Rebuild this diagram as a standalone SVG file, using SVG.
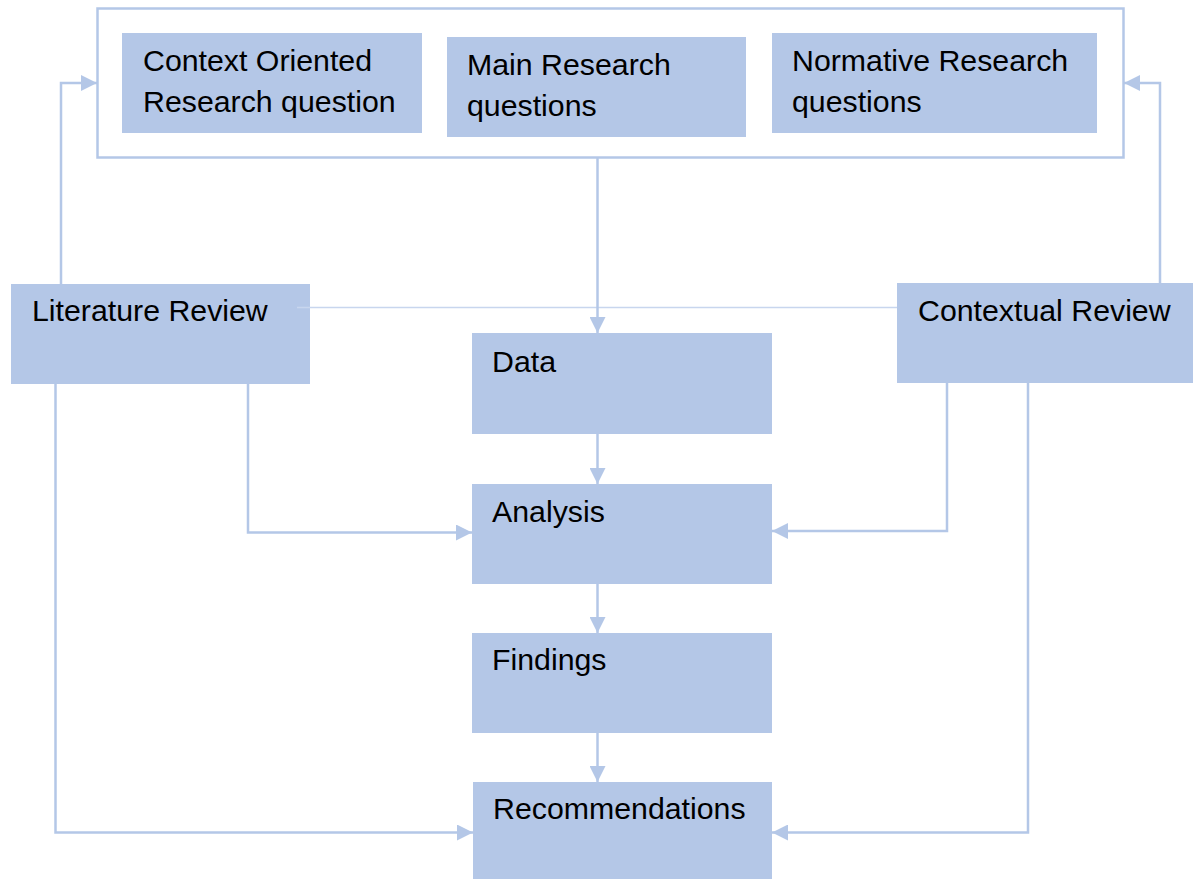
<svg xmlns="http://www.w3.org/2000/svg" width="1193" height="879" viewBox="0 0 1193 879">
<style>
.box{fill:#b4c7e7;}
.t{font-family:"Liberation Sans",Arial,sans-serif;font-size:30.3px;fill:#000;}
.c{fill:none;stroke:#b4c7e7;stroke-width:2.5;}
.thin{fill:none;stroke:#c8d6ee;stroke-width:1.5;}
</style>
<defs>
<marker id="ah" viewBox="0 0 16 16" refX="16" refY="8" markerWidth="16" markerHeight="16" markerUnits="userSpaceOnUse" orient="auto">
<path d="M0,0 L16,8 L0,16 Z" fill="#b4c7e7"/>
</marker>
</defs>
<rect width="1193" height="879" fill="#fff"/>
<g id="frame">
<rect x="97.5" y="8.5" width="1026" height="149" fill="none" stroke="#b4c7e7" stroke-width="2.5"/>
</g>
<g id="context-oriented">
<rect class="box" x="122" y="33" width="300" height="100"/>
<text class="t" x="143" y="71">Context Oriented</text>
<text class="t" x="143" y="112">Research question</text>
</g>
<g id="main-research">
<rect class="box" x="447" y="37" width="299" height="100"/>
<text class="t" x="467" y="75">Main Research</text>
<text class="t" x="467" y="116">questions</text>
</g>
<g id="normative-research">
<rect class="box" x="772" y="33" width="325" height="100"/>
<text class="t" x="792" y="71">Normative Research</text>
<text class="t" x="792" y="112">questions</text>
</g>
<g id="literature-review">
<rect class="box" x="11" y="284" width="299" height="100"/>
<text class="t" x="32" y="321">Literature Review</text>
</g>
<g id="contextual-review">
<rect class="box" x="897" y="283" width="296" height="100"/>
<text class="t" x="918" y="321">Contextual Review</text>
</g>
<g id="data">
<rect class="box" x="472" y="333" width="300" height="101"/>
<text class="t" x="492" y="372">Data</text>
</g>
<g id="analysis">
<rect class="box" x="472" y="484" width="300" height="100"/>
<text class="t" x="492" y="522">Analysis</text>
</g>
<g id="findings">
<rect class="box" x="472" y="633" width="300" height="100"/>
<text class="t" x="492" y="670">Findings</text>
</g>
<g id="recommendations">
<rect class="box" x="473" y="782" width="299" height="97"/>
<text class="t" x="493" y="819">Recommendations</text>
</g>
<g id="connectors">
<path class="thin" d="M297,307.5 L897,307.5"/>
<path class="c" d="M597.5,158 L597.5,333" marker-end="url(#ah)"/>
<path class="c" d="M61,284 L61,83 L97,83" marker-end="url(#ah)"/>
<path class="c" d="M1160,283 L1160,83 L1124,83" marker-end="url(#ah)"/>
<path class="c" d="M597.5,434 L597.5,484" marker-end="url(#ah)"/>
<path class="c" d="M597.5,584 L597.5,633" marker-end="url(#ah)"/>
<path class="c" d="M597.5,733 L597.5,782" marker-end="url(#ah)"/>
<path class="c" d="M248,384 L248,532.5 L472,532.5" marker-end="url(#ah)"/>
<path class="c" d="M55.5,384 L55.5,832.5 L473,832.5" marker-end="url(#ah)"/>
<path class="c" d="M947,383 L947,531 L772,531" marker-end="url(#ah)"/>
<path class="c" d="M1028,383 L1028,832.5 L772,832.5" marker-end="url(#ah)"/>
</g>
</svg>
